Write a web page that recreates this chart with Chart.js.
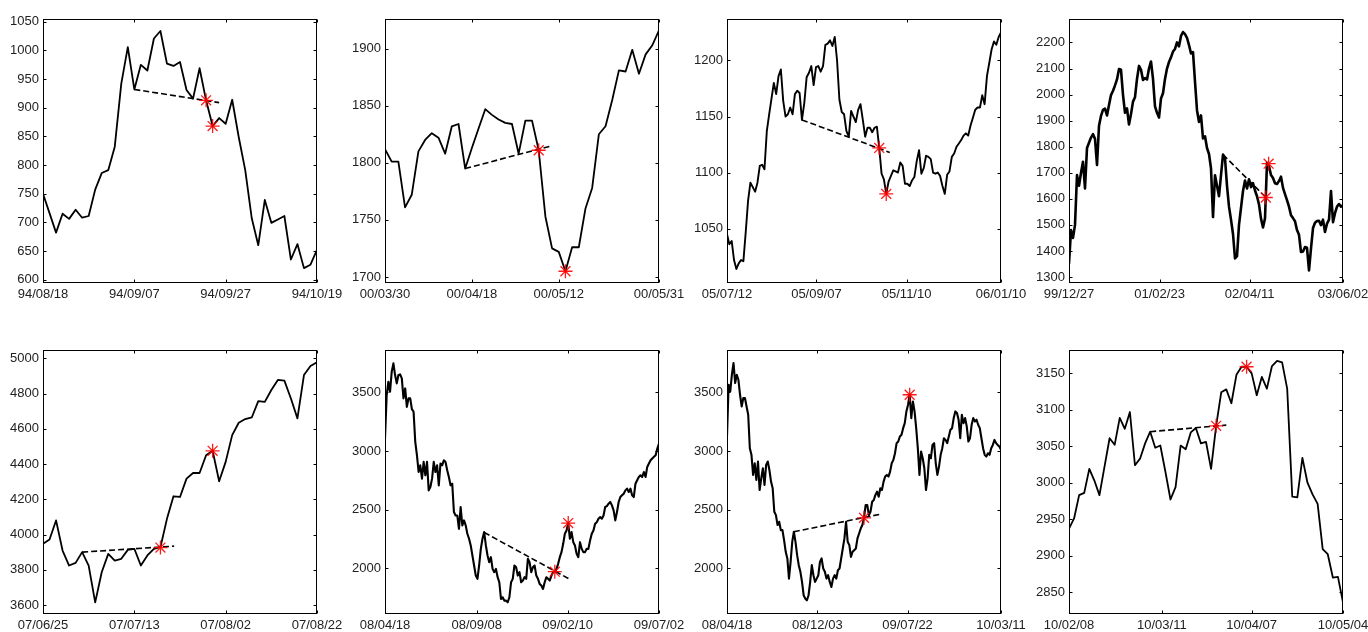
<!DOCTYPE html>
<html>
<head>
<meta charset="utf-8">
<script src="https://cdn.jsdelivr.net/npm/chart.js@4.4.1/dist/chart.umd.min.js"></script>
<style>
html, body { margin: 0; padding: 0; background: #fff; overflow: hidden; width: 1368px; height: 632px; }
canvas { position: absolute; }
</style>
</head>
<body>
<script>
// ---- Panel 1 ----
const p1Values = [750, 716, 682, 715, 706, 722, 708, 711, 757, 786, 791, 832, 942, 1006, 932, 975, 965, 1021, 1034, 977,
  973, 980, 931, 916, 969, 913, 868, 882, 872, 914, 849, 791, 707, 660, 739, 699, 705, 711, 635, 662, 620, 626, 652];
const p1XTicks = [0, 14, 28, 42];
const p1Labels = ['94/08/18', '94/09/07', '94/09/27', '94/10/19'];
const p1YTicks = [600, 650, 700, 750, 800, 850, 900, 950, 1000, 1050];
const p1YRange = [594, 1055];
const p1Dash = [[14, 932], [27, 909]];
const p1Stars = [[25, 913], [26, 868]];

// ---- Panel 2 ----
const p2Values = [1812, 1801, 1801, 1761, 1772, 1810, 1820, 1826, 1822, 1808, 1832, 1834, 1795, 1813, 1830, 1847, 1842, 1838, 1835, 1834,
  1808, 1837, 1837, 1811, 1753, 1725, 1722, 1705, 1726, 1726, 1760, 1778, 1825, 1832, 1855, 1881, 1880, 1899, 1878, 1895, 1903, 1916];
const p2XTicks = [0, 13, 26, 41];
const p2Labels = ['00/03/30', '00/04/18', '00/05/12', '00/05/31'];
const p2YTicks = [1700, 1750, 1800, 1850, 1900];
const p2YRange = [1694.7, 1926];
const p2Dash = [[12, 1795], [25, 1815]];
const p2Stars = [[23, 1811], [27, 1705]];

// ---- Panel 3 ----
const p3Values = [1045, 1036, 1039, 1022, 1014, 1019, 1022, 1021, 1047, 1075,
  1091, 1087, 1083, 1091, 1106, 1107, 1103, 1137, 1152, 1166,
  1180, 1170, 1186, 1192, 1164, 1150, 1152, 1158, 1152, 1170,
  1173, 1171, 1147, 1162, 1185, 1189, 1195, 1178, 1194, 1195,
  1190, 1195, 1214, 1215, 1218, 1213, 1221, 1200, 1165, 1154,
  1152, 1137, 1132, 1155, 1150, 1145, 1156, 1161, 1147, 1132,
  1140, 1140, 1136, 1140, 1141, 1122, 1099, 1094, 1081, 1092,
  1097, 1102, 1101, 1100, 1109, 1106, 1090, 1090, 1088, 1093,
  1096, 1110, 1120, 1099, 1104, 1115, 1114, 1112, 1100, 1099,
  1100, 1097, 1088, 1081, 1098, 1101, 1114, 1117, 1123, 1126,
  1129, 1133, 1135, 1133, 1142, 1149, 1156, 1158, 1158, 1169,
  1161, 1186, 1198, 1210, 1217, 1214, 1221, 1225];
const p3XTicks = [0, 38.2, 76.7, 117];
const p3Labels = ['05/07/12', '05/09/07', '05/11/10', '06/01/10'];
const p3YTicks = [1050, 1100, 1150, 1200];
const p3YRange = [1001.5, 1237];
const p3Dash = [[32, 1147], [69.5, 1118]];
const p3Stars = [[65, 1122], [68, 1081]];

// ---- Panel 4 ----
const p4Values = [1351, 1480, 1450, 1500, 1691, 1650, 1700, 1742, 1640, 1795,
  1815, 1835, 1848, 1830, 1730, 1880, 1918, 1941, 1946, 1920,
  1960, 1998, 2015, 2035, 2058, 2098, 2095, 1999, 1930, 1947,
  1885, 1925, 1973, 1990, 2060, 2110, 2095, 2056, 2063, 2058,
  2100, 2127, 2060, 1955, 1930, 1912, 1985, 2005, 2060, 2100,
  2125, 2143, 2165, 2175, 2200, 2185, 2225, 2240, 2232, 2218,
  2190, 2158, 2163, 2050, 1940, 1895, 1920, 1832, 1840, 1795,
  1772, 1717, 1530, 1690, 1650, 1610, 1691, 1770, 1755, 1650,
  1570, 1520, 1465, 1371, 1380, 1500, 1565, 1630, 1670, 1640,
  1675, 1645, 1660, 1632, 1610, 1578, 1524, 1490, 1525, 1738,
  1725, 1691, 1680, 1660, 1657, 1668, 1685, 1642, 1618, 1595,
  1570, 1537, 1526, 1514, 1480, 1462, 1396, 1398, 1415, 1412,
  1325, 1410, 1488, 1508, 1515, 1516, 1499, 1520, 1473, 1505,
  1520, 1630, 1510, 1545, 1570, 1580, 1570, 1575];
const p4XTicks = [0, 45.3, 90.3, 137];
const p4Labels = ['99/12/27', '01/02/23', '02/04/11', '03/06/02'];
const p4YTicks = [1300, 1400, 1500, 1600, 1700, 1800, 1900, 2000, 2100, 2200];
const p4YRange = [1277, 2290];
const p4Dash = [[77, 1770], [98.5, 1605]];
const p4Stars = [[98.4, 1605], [99.8, 1735]];

// ---- Panel 5 ----
const p5Values = [3947, 3972, 4080, 3909, 3824, 3839, 3900, 3824, 3615, 3786, 3890, 3852, 3862, 3913, 3919, 3824, 3881, 3919, 3928, 4089,
  4217, 4213, 4317, 4349, 4349, 4450, 4475, 4302, 4412, 4564, 4634, 4655, 4664, 4757, 4753, 4820, 4877, 4873, 4772, 4659,
  4905, 4956, 4977];
const p5XTicks = [0, 14, 28, 42];
const p5Labels = ['07/06/25', '07/07/13', '07/08/02', '07/08/22'];
const p5YTicks = [3600, 3800, 4000, 4200, 4400, 4600, 4800, 5000];
const p5YRange = [3549, 5047];
const p5Dash = [[6, 3900], [20.1, 3934]];
const p5Stars = [[18, 3926], [26, 4475]];

// ---- Panel 6 ----
const p6Values = [3106, 3477, 3591, 3506, 3677, 3748, 3648, 3577, 3648, 3654,
  3620, 3449, 3534, 3377, 3449, 3449, 3357, 3335, 3078, 2964,
  2821, 2878, 2764, 2907, 2793, 2907, 2664, 2693, 2764, 2907,
  2821, 2878, 2707, 2893, 2878, 2921, 2907, 2836, 2778, 2707,
  2721, 2479, 2450, 2450, 2336, 2522, 2365, 2408, 2365, 2294,
  2251, 2194, 2108, 2023, 1937, 1909, 2023, 2165, 2251, 2308,
  2194, 2108, 2051, 2094, 1994, 1966, 1994, 1923, 1880, 1737,
  1752, 1723, 1723, 1709, 1752, 1880, 1909, 2023, 2008, 1937,
  1966, 1880, 1894, 1923, 1909, 2080, 2051, 1966, 2008, 2023,
  1937, 1909, 1866, 1852, 1823, 1880, 1923, 1909, 1894, 1937,
  1966, 1970, 1994, 2037, 2094, 2137, 2208, 2294, 2322, 2385,
  2251, 2308, 2222, 2194, 2122, 2094, 2222, 2165, 2137, 2137,
  2165, 2165, 2237, 2294, 2322, 2379, 2393, 2422, 2436, 2422,
  2450, 2522, 2530, 2550, 2565, 2536, 2493, 2408, 2479, 2565,
  2607, 2622, 2636, 2664, 2679, 2650, 2679, 2622, 2607, 2721,
  2750, 2778, 2793, 2778, 2821, 2778, 2864, 2893, 2921, 2936,
  2950, 2964, 3021, 3064];
const p6XTicks = [0, 54.6, 108.6, 163];
const p6Labels = ['08/04/18', '08/09/08', '09/02/10', '09/07/02'];
const p6YTicks = [2000, 2500, 3000, 3500];
const p6YRange = [1609, 3862];
const p6Dash = [[59, 2305], [109.5, 1909]];
const p6Stars = [[101, 1970], [109, 2385]];

// ---- Panel 7 ----
const p7Values = [3124, 3566, 3509, 3651, 3751, 3580, 3651, 3608, 3480, 3380,
  3452, 3452, 3380, 3309, 3024, 2967, 2796, 2895, 2753, 2910,
  2667, 2767, 2853, 2710, 2881, 2910, 2838, 2739, 2682, 2482,
  2453, 2368, 2396, 2325, 2325, 2240, 2140, 2083, 1911, 2054,
  2225, 2311, 2225, 2111, 2026, 1969, 1883, 1769, 1740, 1726,
  1769, 1883, 2026, 1940, 1883, 1911, 1940, 2054, 2083, 1997,
  1969, 1911, 1940, 1883, 1840, 1911, 1940, 1911, 1983, 1997,
  2083, 2168, 2254, 2396, 2225, 2197, 2097, 2140, 2154, 2168,
  2254, 2296, 2339, 2368, 2430, 2539, 2539, 2453, 2482, 2567,
  2582, 2625, 2653, 2610, 2682, 2667, 2739, 2782, 2796, 2782,
  2824, 2895, 2924, 2981, 3067, 3081, 3124, 3138, 3195, 3238,
  3338, 3395, 3480, 3281, 3423, 3338, 3195, 3024, 2796, 2995,
  2938, 2853, 2667, 2767, 2967, 2938, 3052, 3067, 2895, 2796,
  2867, 2967, 3024, 3109, 3095, 3067, 3124, 3181, 3195, 3281,
  3338, 3324, 3267, 3109, 3309, 3238, 3281, 3210, 3081, 3109,
  3224, 3281, 3252, 3267, 3224, 3195, 3109, 3024, 2967, 2953,
  2981, 2967, 3024, 3052, 3095, 3067, 3052, 3038, 3010];
const p7XTicks = [0, 55.4, 110.7, 168];
const p7Labels = ['08/04/18', '08/12/03', '09/07/22', '10/03/11'];
const p7YTicks = [2000, 2500, 3000, 3500];
const p7YRange = [1609, 3862];
const p7Dash = [[41, 2311], [93.8, 2460]];
const p7Stars = [[84, 2430], [112, 3480]];

// ---- Panel 8 ----
const p8Values = [2937, 2951, 2983, 2986, 3019, 3003, 2983, 3022, 3061, 3052, 3089, 3074, 3097, 3024, 3033, 3054, 3070, 3048, 3051, 3015,
  2977, 2994, 3051, 3046, 3069, 3075, 3054, 3056, 3019, 3078, 3124, 3128, 3109, 3148, 3159, 3159, 3150, 3120, 3145, 3129,
  3160, 3167, 3165, 3129, 2981, 2980, 3034, 3000, 2984, 2971, 2909, 2902, 2870, 2871, 2836];
const p8XTicks = [0, 18.3, 36, 54];
const p8Labels = ['10/02/08', '10/03/11', '10/04/07', '10/05/04'];
const p8YTicks = [2850, 2900, 2950, 3000, 3050, 3100, 3150];
const p8YRange = [2820, 3182];
const p8Dash = [[16, 3070], [31, 3079]];
const p8Stars = [[29, 3078], [35, 3159]];

const panels = [
  { vals: p1Values, xt: p1XTicks, xl: p1Labels, yt: p1YTicks, yr: p1YRange, dash: p1Dash, stars: p1Stars },
  { vals: p2Values, xt: p2XTicks, xl: p2Labels, yt: p2YTicks, yr: p2YRange, dash: p2Dash, stars: p2Stars },
  { vals: p3Values, xt: p3XTicks, xl: p3Labels, yt: p3YTicks, yr: p3YRange, dash: p3Dash, stars: p3Stars },
  { vals: p4Values, xt: p4XTicks, xl: p4Labels, yt: p4YTicks, yr: p4YRange, dash: p4Dash, stars: p4Stars },
  { vals: p5Values, xt: p5XTicks, xl: p5Labels, yt: p5YTicks, yr: p5YRange, dash: p5Dash, stars: p5Stars },
  { vals: p6Values, xt: p6XTicks, xl: p6Labels, yt: p6YTicks, yr: p6YRange, dash: p6Dash, stars: p6Stars },
  { vals: p7Values, xt: p7XTicks, xl: p7Labels, yt: p7YTicks, yr: p7YRange, dash: p7Dash, stars: p7Stars },
  { vals: p8Values, xt: p8XTicks, xl: p8Labels, yt: p8YTicks, yr: p8YRange, dash: p8Dash, stars: p8Stars }
];

// layout of the 2x4 grid (plot area left/top edges) and line weight per panel
const colLeft = [43, 385, 727, 1069];
const rowTop = [19, 350];
const lineW = [1.8, 1.8, 1.9, 2.6, 1.8, 2.1, 2.1, 1.8];
const AXIS_W = 43, PAD_TOP = 14, PAD_RIGHT = 30, XAXIS_H = 22;
const PLOT_W = 274, PLOT_H = 264;

const font = { family: "'Liberation Sans', Arial, sans-serif", size: 13 };

// matlab style box with inward ticks on all four sides
const boxPlugin = {
  id: 'matlabBox',
  afterDraw(chart) {
    const { ctx, chartArea: a, scales: { x, y } } = chart;
    const L = Math.round(a.left) + 0.5, R = Math.round(a.right) - 0.5;
    const T = Math.round(a.top) + 0.5, B = Math.round(a.bottom) - 0.5;
    ctx.save();
    ctx.strokeStyle = '#000';
    ctx.lineWidth = 1;
    ctx.strokeRect(L, T, R - L, B - T);
    ctx.beginPath();
    x.ticks.forEach(t => {
      const px = Math.round(x.getPixelForValue(t.value)) + 0.5;
      ctx.moveTo(px, B); ctx.lineTo(px, B - 3);
      ctx.moveTo(px, T); ctx.lineTo(px, T + 3);
    });
    y.ticks.forEach(t => {
      const py = Math.round(y.getPixelForValue(t.value)) + 0.5;
      ctx.moveTo(L, py); ctx.lineTo(L + 3, py);
      ctx.moveTo(R, py); ctx.lineTo(R - 3, py);
    });
    ctx.stroke();
    ctx.restore();
  }
};

panels.forEach((p, k) => {
  const c = document.createElement('canvas');
  const w = AXIS_W + PLOT_W + PAD_RIGHT, h = PAD_TOP + PLOT_H + XAXIS_H;
  c.width = w; c.height = h;
  c.style.width = w + 'px'; c.style.height = h + 'px';
  c.style.left = (colLeft[k % 4] - AXIS_W) + 'px';
  c.style.top = (rowTop[Math.floor(k / 4)] - PAD_TOP) + 'px';
  document.body.appendChild(c);

  new Chart(c, {
    type: 'line',
    data: {
      datasets: [
        {
          data: p.stars.map(s => ({ x: s[0], y: s[1] })),
          showLine: false,
          pointStyle: 'star',
          pointRadius: 7,
          pointBorderColor: 'rgba(255,0,0,0.9)',
          pointBackgroundColor: 'rgba(255,0,0,0.9)',
          pointBorderWidth: 1.3,
          order: 0
        },
        {
          data: p.dash.map(s => ({ x: s[0], y: s[1] })),
          borderColor: '#000',
          borderWidth: 1.6,
          borderDash: [6, 3],
          pointRadius: 0,
          order: 1
        },
        {
          data: p.vals.map((v, i) => ({ x: i, y: v })),
          borderColor: '#000',
          borderWidth: lineW[k],
          borderJoinStyle: 'round',
          pointRadius: 0,
          tension: 0,
          order: 2
        }
      ]
    },
    options: {
      responsive: false,
      animation: false,
      devicePixelRatio: 1,
      layout: { padding: { top: PAD_TOP, right: PAD_RIGHT, left: 0, bottom: 0 } },
      plugins: { legend: { display: false }, tooltip: { enabled: false } },
      scales: {
        x: {
          type: 'linear',
          min: 0,
          max: p.vals.length - 1,
          afterBuildTicks: s => { s.ticks = p.xt.map(v => ({ value: v })); },
          afterFit: s => { s.height = XAXIS_H; },
          grid: { display: false, drawTicks: false },
          border: { display: false },
          ticks: {
            autoSkip: false, maxRotation: 0, minRotation: 0,
            padding: 4, color: '#222', font: font,
            callback: (v, i) => p.xl[i]
          }
        },
        y: {
          type: 'linear',
          min: p.yr[0],
          max: p.yr[1],
          afterBuildTicks: s => { s.ticks = p.yt.map(v => ({ value: v })); },
          afterFit: s => { s.width = AXIS_W; },
          grid: { display: false, drawTicks: false },
          border: { display: false },
          ticks: {
            padding: 4, color: '#222', font: font,
            callback: v => String(v)
          }
        }
      }
    },
    plugins: [boxPlugin]
  });
});
</script>
</body>
</html>
